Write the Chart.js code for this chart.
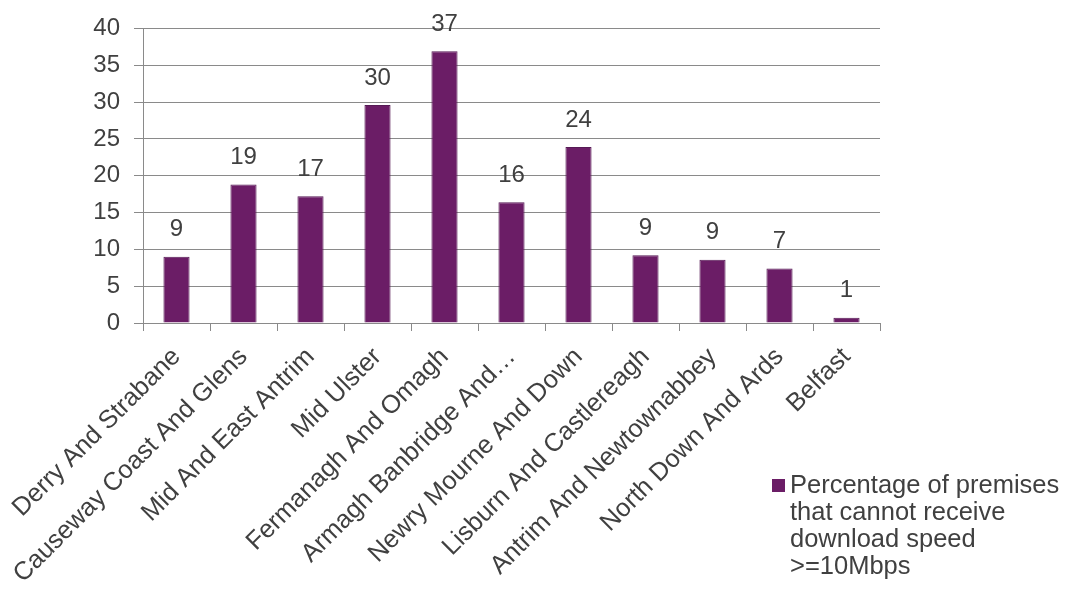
<!DOCTYPE html>
<html>
<head>
<meta charset="utf-8">
<script src="https://cdn.jsdelivr.net/npm/chart.js@4.4.1/dist/chart.umd.min.js"></script>
<style>
  html, body { margin: 0; padding: 0; background: #ffffff; }
  #wrap { position: relative; width: 1071px; height: 590px; }
  #legend { position: absolute; left: 772px; top: 471px; font-family: "Liberation Sans", Arial, sans-serif; font-size: 25.5px; line-height: 27px; color: #404040; }
  #legend .sw { position: absolute; left: 0; top: 8px; width: 13px; height: 13px; background: #6b1d66; }
  #legend .tx { margin-left: 18px; white-space: pre; }
</style>
</head>
<body>
<div id="wrap">
  <canvas id="c" width="1071" height="590"></canvas>
  <div id="legend"><span class="sw"></span><div class="tx" id="legendText"></div></div>
</div>
<script>
const categories = [
  "Derry And Strabane",
  "Causeway Coast And Glens",
  "Mid And East Antrim",
  "Mid Ulster",
  "Fermanagh And Omagh",
  "Armagh Banbridge And\u2026",
  "Newry Mourne And Down",
  "Lisburn And Castlereagh",
  "Antrim And Newtownabbey",
  "North Down And Ards",
  "Belfast"
];
const seriesName = "Percentage of premises\nthat cannot receive\ndownload speed\n>=10Mbps";
const values = [9.0, 18.8, 17.2, 29.6, 36.9, 16.4, 23.9, 9.2, 8.6, 7.4, 0.7];
const yTicks = [0, 5, 10, 15, 20, 25, 30, 35, 40];

document.getElementById('legendText').textContent = seriesName;

const FONT = "'Liberation Sans', Arial, sans-serif";
const TEXT = '#404040';
const GRID = '#8a8a8a';

const dataLabels = {
  id: 'dataLabels',
  afterDatasetsDraw(chart) {
    const ctx = chart.ctx;
    const meta = chart.getDatasetMeta(0);
    ctx.save();
    ctx.font = "24px " + FONT;
    ctx.fillStyle = TEXT;
    ctx.textAlign = 'center';
    ctx.textBaseline = 'middle';
    meta.data.forEach((bar, i) => {
      ctx.fillText(String(Math.round(values[i])), bar.x, bar.y - 27);
    });
    ctx.restore();
  }
};

new Chart(document.getElementById('c'), {
  type: 'bar',
  data: {
    labels: categories,
    datasets: [{
      label: seriesName,
      data: values,
      backgroundColor: '#6b1d66',
      borderColor: '#561a55',
      borderWidth: 1,
      categoryPercentage: 1.0,
      barPercentage: 0.39
    }]
  },
  options: {
    responsive: false,
    animation: false,
    layout: { padding: { left: 0, right: 191, top: 24, bottom: 0 } },
    plugins: {
      legend: { display: false },
      tooltip: { enabled: false }
    },
    scales: {
      x: {
        offset: true,
        grid: {
          offset: true,
          drawOnChartArea: false,
          drawTicks: true,
          tickLength: 8,
          color: GRID,
          lineWidth: 1
        },
        border: { display: true, color: GRID, width: 1 },
        ticks: {
          autoSkip: false,
          minRotation: 45,
          maxRotation: 45,
          padding: 11,
          color: TEXT,
          font: { family: FONT, size: 25.5 }
        },
        afterFit(scale) {
          scale.height = 267;
          scale.paddingLeft = 0;
          scale.paddingRight = 0;
        }
      },
      y: {
        min: 0,
        max: 40,
        afterBuildTicks(scale) {
          scale.ticks = yTicks.map(v => ({ value: v }));
        },
        grid: {
          color: GRID,
          lineWidth: 1,
          drawTicks: true,
          tickLength: 9
        },
        border: { display: true, color: GRID, width: 1 },
        ticks: {
          padding: 14,
          color: TEXT,
          font: { family: FONT, size: 24 }
        },
        afterFit(scale) {
          scale.width = 143;
        }
      }
    }
  },
  plugins: [dataLabels]
});
</script>
</body>
</html>
